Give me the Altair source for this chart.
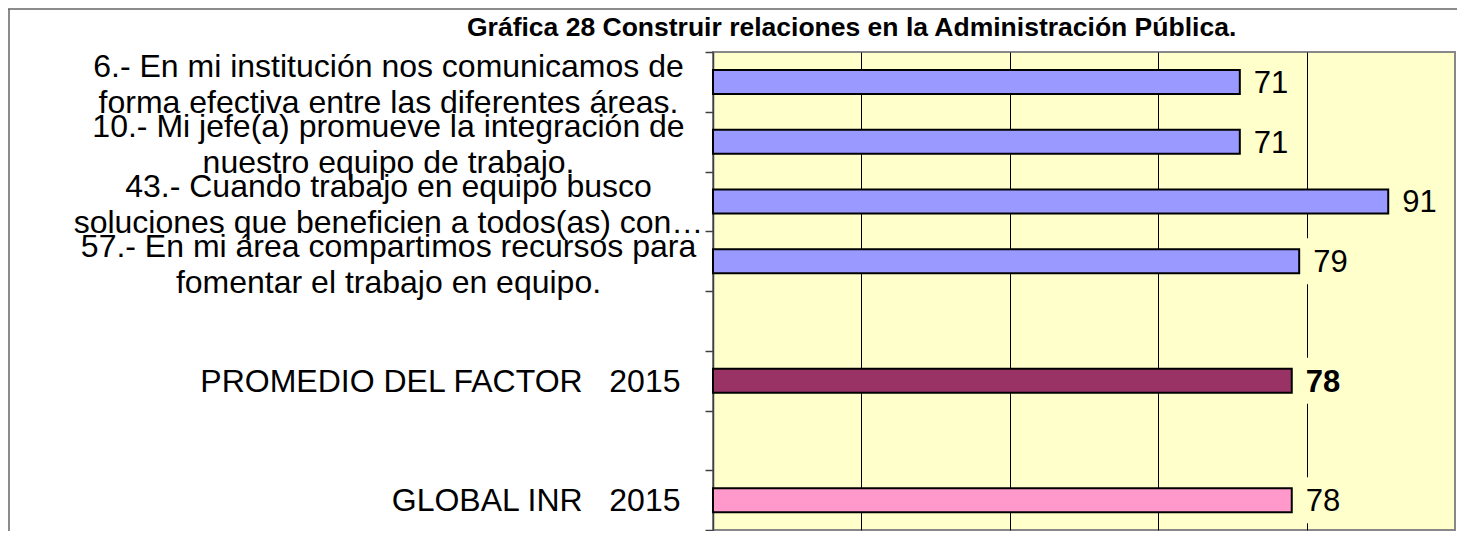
import altair as alt
import pandas as pd

# ---- data ----
NB = "\u00a0"
items = [
    "6.- En mi institución nos comunicamos de\nforma efectiva entre las diferentes áreas.",
    "10.- Mi jefe(a) promueve la integración de\nnuestro equipo de trabajo.",
    "43.- Cuando trabajo en equipo busco\nsoluciones que beneficien a todos(as) con…",
    "57.- En mi área compartimos recursos para\nfomentar el trabajo en equipo.",
    "PROMEDIO DEL FACTOR" + NB * 3 + "2015",
    "GLOBAL INR" + NB * 3 + "2015",
]
values = [71, 71, 91, 79, 78, 78]
bar_colors = ["#9999FF", "#9999FF", "#9999FF", "#9999FF", "#993366", "#FF99CC"]
label_weights = ["normal", "normal", "normal", "normal", "bold", "normal"]
row_order = [items[0], items[1], items[2], items[3], " ", items[4], "  ", items[5]]
title_text = "Gráfica 28 Construir relaciones en la Administración Pública."

df = pd.DataFrame({"item": items, "value": values, "weight": label_weights})

FONT = "Liberation Sans, Arial, sans-serif"

yscale = alt.Scale(domain=row_order, paddingInner=0, paddingOuter=0)
xscale = alt.Scale(domain=[0, 100], nice=False, zero=True)

x_axis = alt.Axis(title=None, labels=False, ticks=False, domain=False, grid=True,
                  values=[20, 40, 60, 80], gridColor="black", gridWidth=1, gridOpacity=1)

q_axis = alt.Axis(
    title=None, orient="left",
    labelExpr="indexof(datum.label, '\\n') >= 0 ? split(datum.label, '\\n') : ''",
    labelAlign="center", labelBaseline="middle", labelPadding=317, labelOffset=-15,
    labelFont=FONT, labelFontSize=32, labelLineHeight=36, labelLimit=2000,
    labelColor="black", labelOverlap=False,
    tickSize=8, tickBand="extent", tickColor="#404040", tickWidth=1.5,
    domain=True, domainColor="#404040", domainWidth=1.5,
)
s_axis = alt.Axis(
    title=None, orient="left",
    labelExpr="indexof(datum.label, '\\n') >= 0 ? '' : datum.label",
    labelAlign="right", labelBaseline="middle", labelPadding=33, labelOffset=1,
    labelFont=FONT, labelFontSize=32, labelLimit=2000, labelColor="black",
    labelOverlap=False, ticks=False, tickSize=0, domain=False,
)

base = alt.Chart(df)

boxes = base.transform_calculate(
    box_end="datum.value + 6.5"
).mark_bar(color="#FFFFCC", size=46).encode(
    x=alt.X("value:Q", scale=xscale, axis=x_axis),
    x2="box_end:Q",
    y=alt.Y("item:N", scale=yscale, sort=row_order, axis=None),
)

bars = base.mark_bar(size=24, stroke="black", strokeWidth=2).encode(
    x=alt.X("value:Q", scale=xscale, axis=x_axis),
    y=alt.Y("item:N", scale=yscale, sort=row_order, axis=q_axis),
    color=alt.Color("item:N", scale=alt.Scale(domain=items, range=bar_colors), legend=None),
)

txt_normal = base.transform_filter("datum.weight == 'normal'").mark_text(
    align="left", baseline="middle", dx=14, dy=2, font=FONT, fontSize=31, color="black"
).encode(
    x=alt.X("value:Q", scale=xscale),
    y=alt.Y("item:N", scale=yscale, sort=row_order, axis=s_axis),
    text=alt.Text("value:Q", format="d"),
)

txt_bold = base.transform_filter("datum.weight == 'bold'").mark_text(
    align="left", baseline="middle", dx=14, dy=2, font=FONT, fontSize=31,
    fontWeight="bold", color="black"
).encode(
    x=alt.X("value:Q", scale=xscale),
    y=alt.Y("item:N", scale=yscale, sort=row_order, axis=None),
    text=alt.Text("value:Q", format="d"),
)

title = alt.Chart(pd.DataFrame({"t": [title_text]})).mark_text(
    align="left", baseline="alphabetic", font=FONT, fontSize=26.5,
    fontWeight="bold", color="black"
).encode(x=alt.value(-246), y=alt.value(-16), text="t:N")

frame_v = alt.Chart(pd.DataFrame({"k": [0]})).mark_rule(color="#666666", strokeWidth=1.5).encode(
    x=alt.value(-704), y=alt.value(-43), y2=alt.value(500)
)
frame_h = alt.Chart(pd.DataFrame({"k": [0]})).mark_rule(color="#666666", strokeWidth=1.5).encode(
    x=alt.value(-705), x2=alt.value(760), y=alt.value(-43)
)

chart = alt.layer(
    boxes, bars, txt_normal, txt_bold, title, frame_v, frame_h
).resolve_axis(y="independent").properties(
    width=742, height=478,
    autosize=alt.AutoSizeParams(type="none"),
    padding={"left": 705, "top": 44, "right": 2, "bottom": 1},
    background="white",
).configure_view(
    fill="#FFFFCC", stroke="#888888", strokeWidth=2
)

chart.save("out.html", embed_options={"renderer": "svg", "actions": False})
